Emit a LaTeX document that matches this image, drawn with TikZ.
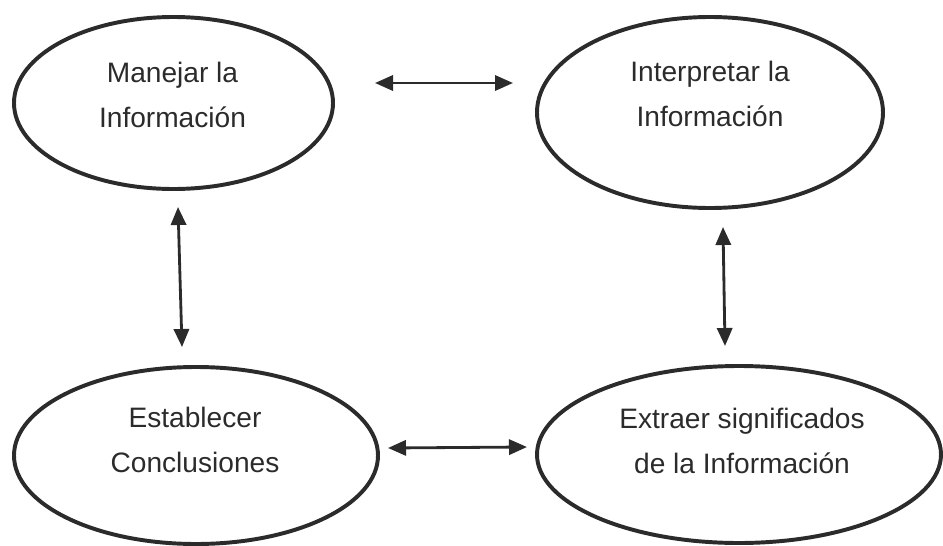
\documentclass[tikz,border=0pt]{standalone}
\usepackage{fontspec}
\setmainfont{Liberation Sans}
\usepackage{xcolor}
\usepackage{tikz}
\usetikzlibrary{arrows.meta,shapes.geometric}
\definecolor{tinta}{HTML}{2B2B2B}
\begin{document}
\begin{tikzpicture}[
idea/.style={draw=tinta,line width=2.8pt,shape=ellipse,inner sep=0pt},
txt/.style={align=center,text=tinta,font=\fontsize{20}{32}\selectfont},
flecha/.style={tinta,line width=2pt,{Triangle[length=0.45cm,width=0.38cm]}-{Triangle[length=0.45cm,width=0.38cm]}}]
\useasboundingbox(0,0)rectangle(23.575,-13.65);
%\draw[help lines](0,0)grid(24,-14);
\node[idea,minimum width=7.975cm,minimum height=4.3cm](manejar)at(4.3375,-2.575){};
\node[idea,minimum width=8.65cm,minimum height=4.775cm](interp)at(17.75,-2.8125){};
\node[idea,minimum width=9.1cm,minimum height=4.425cm](concl)at(4.9,-11.3875){};
\node[idea,minimum width=10.1cm,minimum height=4.425cm](extraer)at(18.475,-11.3625){};
\node[txt](tmanejar)at(4.3125,-2.38){Manejar la\\Información};
\node[txt](tinterp)at(17.75,-2.35){Interpretar la\\Información};
\node[txt](tconcl)at(4.875,-11.0){Establecer\\Conclusiones};
\node[txt](textraer)at(18.55,-11.025){Extraer significados\\de la Información};
\coordinate (a1) at (9.375,-2.075);
\coordinate (a2) at (12.825,-2.075);
\coordinate (b1) at (4.45,-5.175);
\coordinate (b2) at (4.55,-8.675);
\coordinate (c1) at (18.075,-5.675);
\coordinate (c2) at (18.125,-8.65);
\coordinate (d1) at (9.7,-11.2);
\coordinate (d2) at (13.175,-11.175);
\draw[flecha](a1)--(a2);
\draw[flecha](b1)--(b2);
\draw[flecha](c1)--(c2);
\draw[flecha](d1)--(d2);
\end{tikzpicture}
\end{document}
